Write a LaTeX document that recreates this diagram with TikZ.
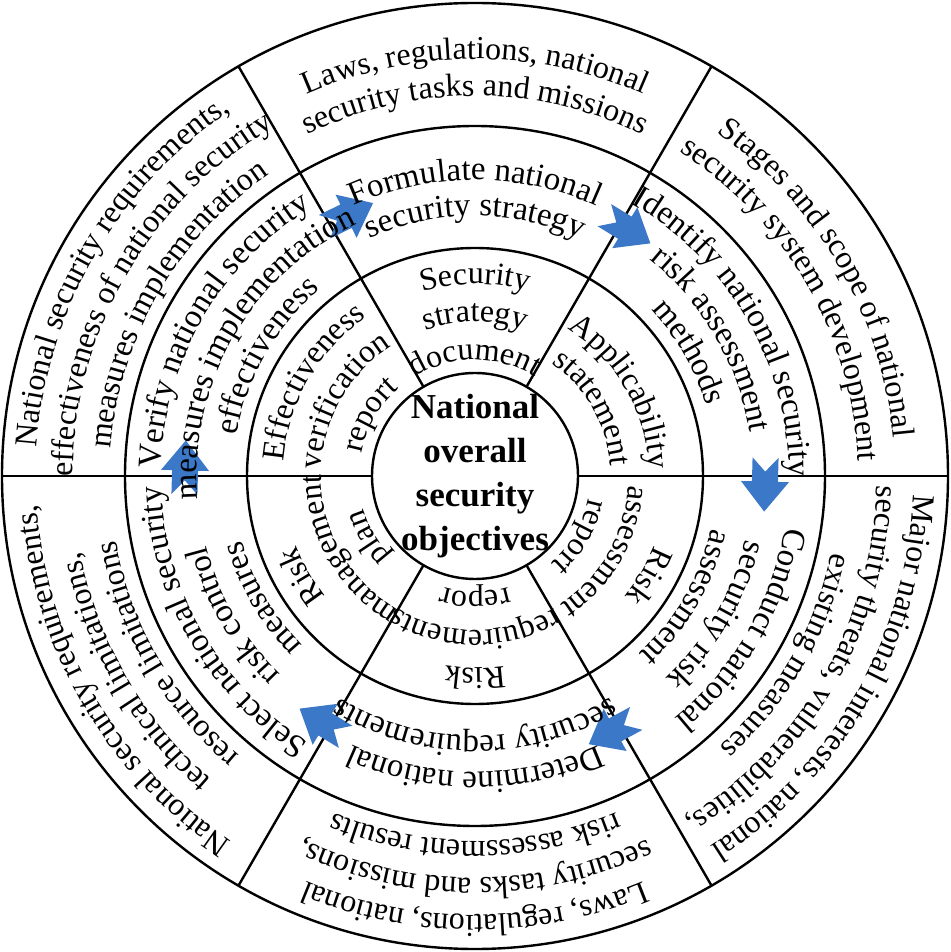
\documentclass[tikz,border=0pt]{standalone}
\usepackage{fontspec}
\setmainfont{Liberation Serif}
\usetikzlibrary{decorations.text}
\definecolor{arrowblue}{HTML}{3B78C8}
\newcommand\fA{\fontsize{16}{18}\selectfont}
\newcommand\fB{\fontsize{16.5}{18}\selectfont}
\newcommand\fC{\fontsize{16}{18}\selectfont}
\newcommand\arctext[3]{\path[decorate,decoration={text along path,text align=center,text={|\fA|#3}}] (#1+50:#2) arc[start angle=#1+50,end angle=#1-50,radius=#2];}
\newcommand\arctextB[3]{\path[decorate,decoration={text along path,text align=center,text={|\fB|#3}}] (#1+50:#2) arc[start angle=#1+50,end angle=#1-50,radius=#2];}
\newcommand\arctextC[3]{\path[decorate,decoration={text along path,text align=center,text={|\fC|#3}}] (#1+60:#2) arc[start angle=#1+60,end angle=#1-60,radius=#2];}
\tikzset{
  ring/.style={line width=1.2pt},
  barrow/.pic={\fill[arrowblue,x=1pt,y=1pt] (-13,6.5)--(-1,6.5)--(-1,12)--(14,0)--(-1,-12)--(-1,-6.5)--(-13,-6.5)--(-6,0)--cycle;}
}
\begin{document}
\begin{tikzpicture}
\useasboundingbox (-237.5pt,-238pt) rectangle (237.5pt,238pt);
\fill[white] (-237.5pt,-238pt) rectangle (237.5pt,238pt);
\foreach \r in {51.5,114,175,236.5} \draw[ring] (0,0) circle[radius=\r pt];
\foreach \a in {0,60,...,300} \draw[ring] (\a:51.5pt) -- (\a:236.5pt);
% arrows
\foreach \a in {116,58.5,-1.5,-61.5,-121.5,178.5}
  \pic[rotate=\a-90] at (\a:145pt) {barrow};
% center
\node[font=\fontsize{17.5}{22}\selectfont\bfseries,align=center] (center) at (0,0) {National\\overall\\security\\objectives};
% outer ring
\arctext{90}{208.5pt}{Laws, regulations, national}
\arctext{90}{190pt}{security tasks and missions}
\arctext{30}{210pt}{Stages and scope of national}
\arctext{30}{191.5pt}{security system development}
\arctext{150}{219.5pt}{National security requirements,}
\arctext{150}{201pt}{effectiveness of national security}
\arctext{150}{182.5pt}{measures implementation}
\arctext{-30}{219.5pt}{Major national interests, national}
\arctext{-30}{201pt}{security threats, vulnerabilities,}
\arctext{-30}{182.5pt}{existing measures}
\arctext{-90}{219.5pt}{Laws, regulations, national}
\arctext{-90}{201pt}{security tasks and missions,}
\arctext{-90}{182.5pt}{risk assessment results}
\arctext{-150}{219.5pt}{National security requirements,}
\arctext{-150}{201pt}{technical limitations,}
\arctext{-150}{182.5pt}{resource limitations}
% middle ring
\arctextB{90}{148pt}{Formulate national}
\arctextB{90}{130pt}{security strategy}
\arctextB{30}{157pt}{Identify national security}
\arctextB{30}{139pt}{risk assessment}
\arctextB{30}{121pt}{methods}
\arctextB{-30}{157pt}{Conduct national}
\arctextB{-30}{139pt}{security risk}
\arctextB{-30}{121pt}{assessment}
\arctextB{-90}{148pt}{Determine national}
\arctextB{-90}{130pt}{security requirements}
\arctextB{-150}{157pt}{Select national security}
\arctextB{-150}{139pt}{risk control}
\arctextB{-150}{121pt}{measures}
\arctextB{150}{157pt}{Verify national security}
\arctextB{150}{139pt}{measures implementation}
\arctextB{150}{121pt}{effectiveness}
% inner ring
\arctextC{90}{96pt}{Security}
\arctextC{90}{77pt}{strategy}
\arctextC{90}{58pt}{document}
\arctextC{30}{87pt}{Applicability}
\arctextC{30}{68pt}{statement}
\arctextC{-30}{96pt}{Risk}
\arctextC{-30}{77pt}{assessment}
\arctextC{-30}{58pt}{report}
\arctextC{-90}{96pt}{Risk}
\arctextC{-90}{77pt}{requirements}
\arctextC{-90}{58pt}{repor}
\arctextC{-150}{96pt}{Risk}
\arctextC{-150}{77pt}{management}
\arctextC{-150}{58pt}{plan}
\arctextC{150}{96pt}{Effectiveness}
\arctextC{150}{77pt}{verification}
\arctextC{150}{58pt}{report}
\end{tikzpicture}
\end{document}
